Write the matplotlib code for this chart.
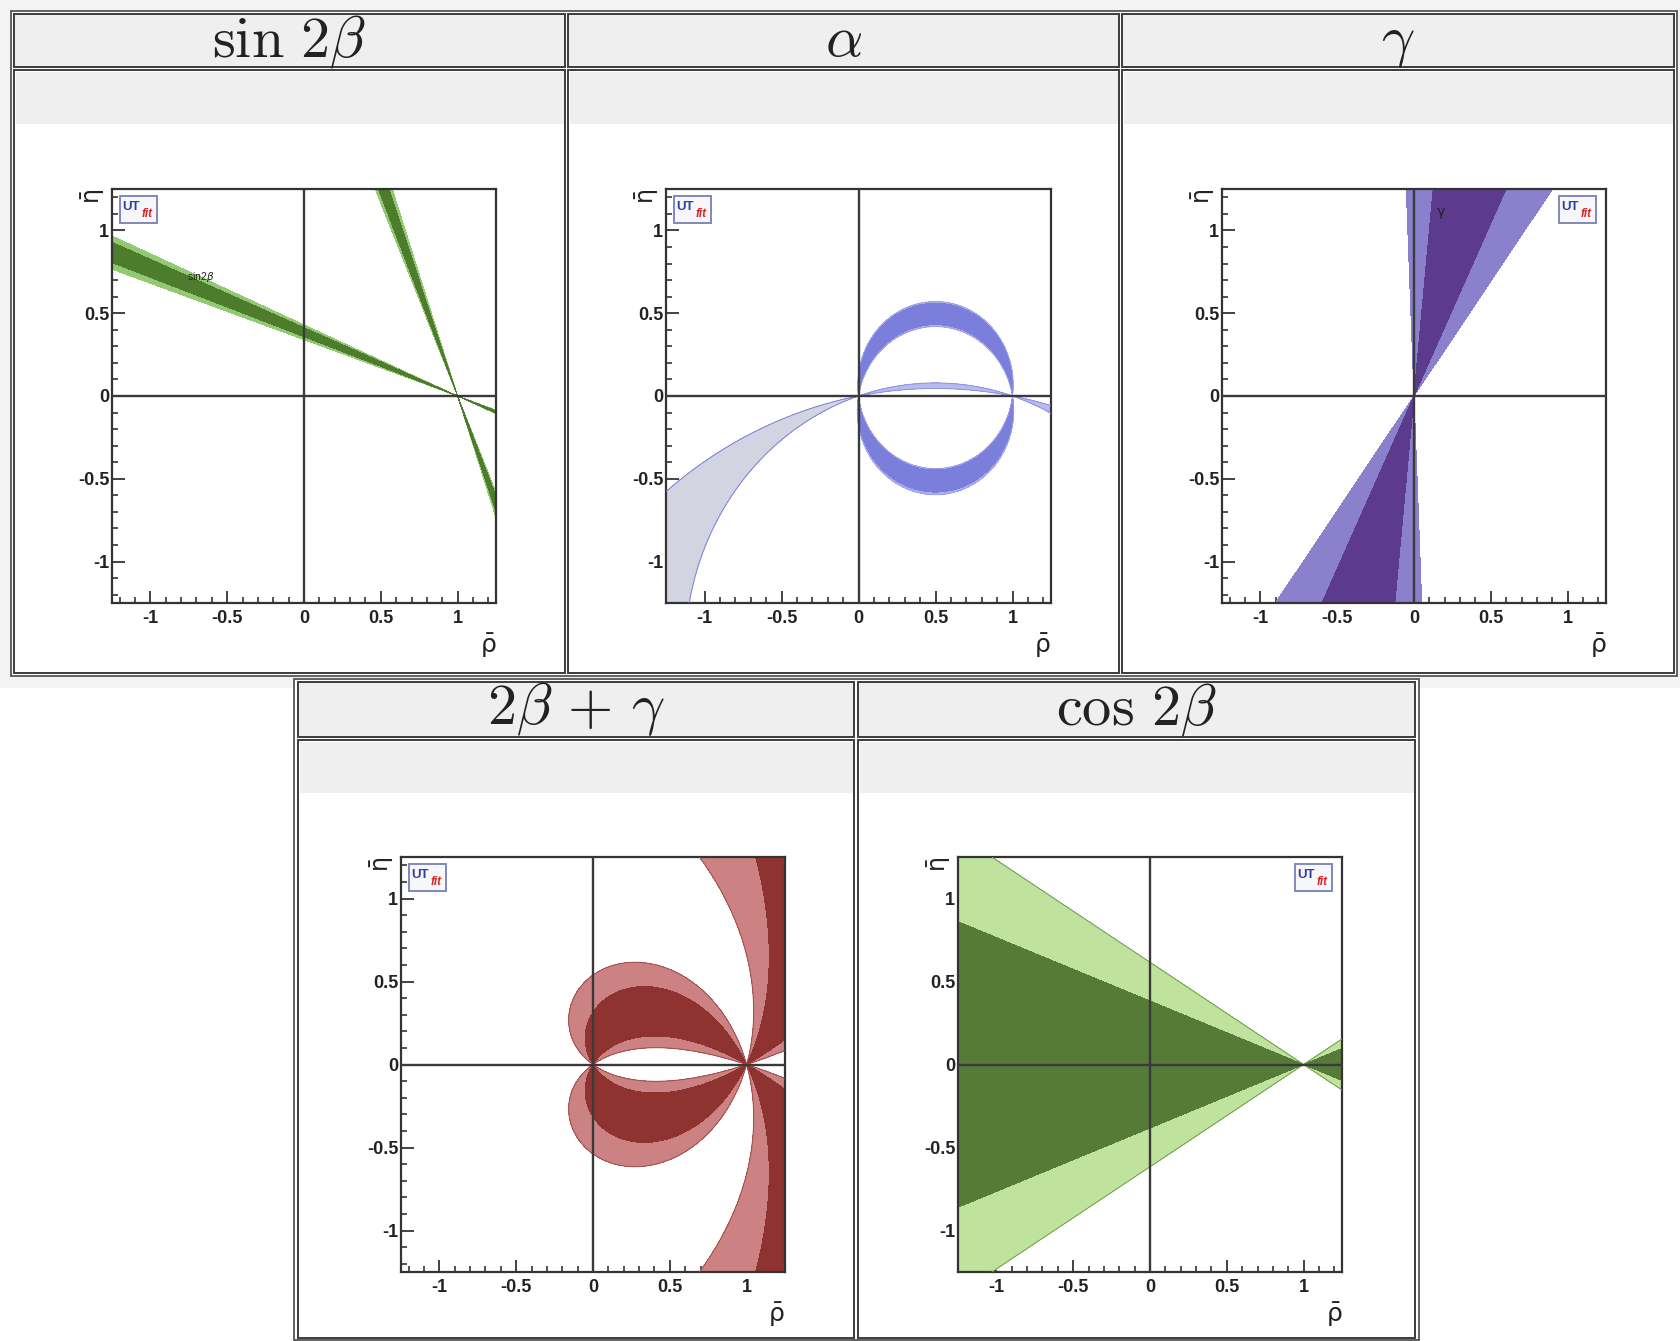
import numpy as np
import matplotlib
matplotlib.use("Agg")
import matplotlib.pyplot as plt
from matplotlib.patches import Rectangle
from matplotlib.ticker import MultipleLocator, FuncFormatter

W, H = 1680, 1341

plt.rcParams['font.family'] = ['Liberation Sans', 'DejaVu Sans']
plt.rcParams['axes.unicode_minus'] = False

# panel titles
titles = [r"$\sin\,2\beta$", r"$\alpha$", r"$\gamma$", r"$2\beta\,+\,\gamma$", r"$\cos\,2\beta$"]

# constraint bands, dark = 68%, light = 95%
sin2b_dark = [0.635, 0.705]
sin2b_light = [0.61, 0.725]
alpha_dark = [83.5, 98.5]        # alpha (deg, mod 180), main solution
alpha_light = [82.5, 100.0]
alpha_alt = [162.1, 169.6]       # second alpha solution
gamma_dark = [64.4, 84.3]        # gamma (deg, mod 180)
gamma_light = [54.2, 92.3]
s2bg_dark = 0.82                 # |sin(2beta+gamma)| lower bound
s2bg_light = 0.55
cos2b_dark = 0.745               # cos(2beta) lower bound
cos2b_light = 0.45

# grid in the (rho, eta) plane
rho = np.linspace(-1.25, 1.25, 1200)
eta = np.linspace(-1.25, 1.25, 1200)
R, E = np.meshgrid(rho, eta)

beta = np.arctan2(E, 1 - R)
gam = np.arctan2(E, R)
sin2b = np.sin(2 * beta)
cos2b = np.cos(2 * beta)
alpha = np.degrees(np.arctan2(E, R * (R - 1) + E ** 2)) % 180
gamma = np.degrees(gam) % 180
s2bg = np.abs(np.sin(2 * beta + gam))


def px_axes(fig, x0, y0, x1, y1):
    return fig.add_axes([x0 / W, 1 - y1 / H, (x1 - x0) / W, (y1 - y0) / H])


def band(ax, field, lo, hi, color, edge=None, lw=0.7):
    ax.contourf(R, E, field, levels=[lo, hi], colors=[color], zorder=2)
    if edge is not None:
        ax.contour(R, E, field, levels=[v for v in (lo, hi) if v < field.max()],
                   colors=[edge], linewidths=lw, zorder=3)


def utfit(ax, x0, y0):
    w, h = 0.096, 0.064
    ax.add_patch(Rectangle((x0, y0), w, h, transform=ax.transAxes, fc='#f7f7fb',
                           ec='#8088bb', lw=1.4, zorder=8))
    ax.text(x0 + 0.006, y0 + h * 0.62, 'UT', transform=ax.transAxes, color='#3040a0',
            fontsize=9.5, fontweight='bold', va='center', ha='left', zorder=9)
    ax.text(x0 + 0.057, y0 + h * 0.34, 'fit', transform=ax.transAxes, color='#d02828',
            fontsize=8.5, fontweight='bold', style='italic', va='center', ha='left', zorder=9)


def style_axes(ax, logo_right=False):
    ax.set_xlim(-1.25, 1.25)
    ax.set_ylim(-1.25, 1.25)
    fmt = FuncFormatter(lambda v, p: "0" if abs(v) < 1e-9 else f"{v:g}")
    for axis in (ax.xaxis, ax.yaxis):
        axis.set_major_locator(MultipleLocator(0.5))
        axis.set_minor_locator(MultipleLocator(0.1))
        axis.set_major_formatter(fmt)
    ax.tick_params(which='both', direction='in', top=False, right=False, colors='#222')
    ax.tick_params(which='major', length=9, width=1.2, labelsize=13)
    ax.tick_params(which='minor', length=4.5, width=1.1)
    ax.tick_params(axis='x', pad=5)
    ax.tick_params(axis='y', pad=2)
    for lbl in ax.get_xticklabels() + ax.get_yticklabels():
        lbl.set_fontweight('bold')
    for sp in ax.spines.values():
        sp.set_linewidth(1.6)
        sp.set_color('#333')
    ax.axhline(0, color='#3a3a3a', lw=1.7, zorder=6)
    ax.axvline(0, color='#3a3a3a', lw=1.7, zorder=6)
    ax.text(1.0, -0.07, r'$\bar{\mathrm{\rho}}$', transform=ax.transAxes, ha='right',
            va='top', fontsize=18, math_fontfamily='dejavusans', color='#222')
    ax.text(-0.05, 1.0, r'$\bar{\mathrm{\eta}}$', transform=ax.transAxes, ha='center',
            va='top', rotation=90, fontsize=17, math_fontfamily='dejavusans', color='#222')
    utfit(ax, 0.878 if logo_right else 0.02, 0.918)


fig = plt.figure(figsize=(W / 100, H / 100), dpi=100)
bg = fig.add_axes([0, 0, 1, 1], zorder=0)
bg.set_xlim(0, W)
bg.set_ylim(H, 0)
bg.axis('off')

# light page margin behind the upper table
bg.add_patch(Rectangle((0, 0), W, 688, fc='#f3f3f3', ec='none'))


def table(x0, y0, x1, y1, cols, ty0, ty1, cy0, cy1, band_bottom, names):
    bg.add_patch(Rectangle((x0, y0), x1 - x0, y1 - y0, fc='white', ec='#555', lw=1.3))
    for (c0, c1), name in zip(cols, names):
        bg.add_patch(Rectangle((c0, ty0), c1 - c0, ty1 - ty0, fc='#efefef', ec='#3c3c3c', lw=1.4))
        bg.add_patch(Rectangle((c0, cy0), c1 - c0, cy1 - cy0, fc='white', ec='#3c3c3c', lw=1.4))
        bg.add_patch(Rectangle((c0 + 1.5, cy0 + 1.5), c1 - c0 - 3, band_bottom - cy0 - 1.5,
                               fc='#efefef', ec='none'))
        bg.text((c0 + c1) / 2, ty0 + 42, name, ha='center', va='baseline', fontsize=42,
                math_fontfamily='cm', color='#222')


table(11, 11, 1677, 676, [(14, 565), (568, 1119), (1122, 1674)], 14, 67, 70, 673, 124, titles[:3])
table(294, 679, 1419, 1340, [(298, 854), (858, 1415)], 682, 737, 740, 1338, 793, titles[3:])

# sin 2beta
ax1 = px_axes(fig, 112, 189, 496, 603)
band(ax1, sin2b, *sin2b_light, '#93c972')
band(ax1, sin2b, *sin2b_dark, '#4d7c2c')
ax1.text(-0.76, 0.72, r'sin2$\beta$', fontsize=7.5, va='center', ha='left', zorder=7,
         math_fontfamily='dejavusans', color='#222')
style_axes(ax1)

# alpha
ax2 = px_axes(fig, 666, 189, 1051, 603)
band(ax2, np.ma.masked_where(R > 0, alpha), *alpha_alt, '#d2d5e1', edge='#7b7fdb')
band(ax2, np.ma.masked_where(R < 0, alpha), *alpha_alt, '#b8bbef', edge='#8c90e2')
band(ax2, alpha, *alpha_light, '#aeb1ee', edge='#9da1ea')
band(ax2, alpha, *alpha_dark, '#7b7fdb')
style_axes(ax2)

# gamma
ax3 = px_axes(fig, 1222, 189, 1606, 603)
band(ax3, gamma, *gamma_light, '#8b80cc')
band(ax3, gamma, *gamma_dark, '#5c3b8f')
ax3.text(0.14, 1.1, r'$\mathrm{\gamma}$', fontsize=10, va='center', ha='left', zorder=7,
         math_fontfamily='dejavusans', color='#222')
style_axes(ax3, logo_right=True)

# 2beta + gamma
ax4 = px_axes(fig, 401, 857, 785, 1272)
band(ax4, s2bg, s2bg_light, 2.0, '#cc8282', edge='#a04c4a')
band(ax4, s2bg, s2bg_dark, 2.0, '#8e3330')
style_axes(ax4)

# cos 2beta
ax5 = px_axes(fig, 958, 857, 1342, 1272)
band(ax5, cos2b, cos2b_light, 2.0, '#bfe29c', edge='#6f9d4e')
band(ax5, cos2b, cos2b_dark, 2.0, '#567a38')
style_axes(ax5, logo_right=True)

fig.savefig('out.png', dpi=100)
